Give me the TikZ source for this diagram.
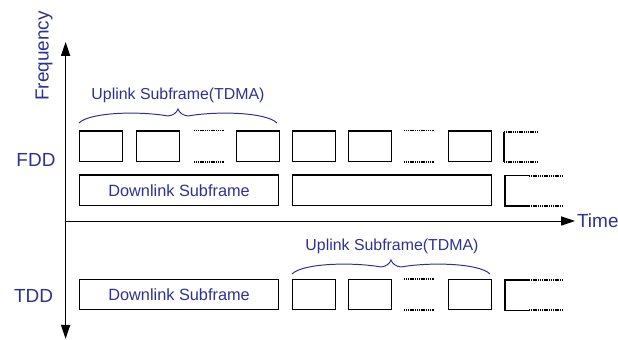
\documentclass[tikz,border=0pt]{standalone}
\usepackage{fontspec}
\setmainfont{Liberation Sans}
\usetikzlibrary{arrows.meta}

\definecolor{labelblue}{RGB}{46,49,146}

\tikzset{
  axislabel/.style={text=labelblue, font=\fontsize{13.5}{16}\selectfont, inner sep=0pt},
  framelabel/.style={text=labelblue, font=\fontsize{11.3}{13}\selectfont, inner sep=0pt},
  slot/.style={draw, line width=0.8pt, minimum width=1.075cm, minimum height=0.76cm,
    inner sep=0pt, anchor=south west},
  wideslot/.style={slot, minimum width=4.975cm, text=labelblue,
    font=\fontsize{11.6}{13}\selectfont},
  gap/.style={line width=1.3pt, dash pattern=on 0.8pt off 0.5pt},
  upbrace/.pic={
    \draw[labelblue, line width=0.7pt] (0,0) .. controls (0.275,0.275) and (1.525,0.3) .. (2.225,0.175)
      .. controls (2.35,0.19) and (2.44,0.25) .. (2.475,0.35)
      .. controls (2.51,0.25) and (2.6,0.19) .. (2.725,0.175)
      .. controls (3.425,0.3) and (4.675,0.275) .. (4.95,0);
  }
}

\begin{document}
\begin{tikzpicture}
  \useasboundingbox (0,0) rectangle (15.45,8.5);
  % Axes
  \coordinate (origin) at (1.64,2.975);
  \coordinate (ftop) at (1.64,7.45);
  \coordinate (fbot) at (1.64,0.03);
  \coordinate (tend) at (14.375,2.975);
  \draw[line width=0.7pt, {Triangle[length=3.5mm,width=2.3mm]}-{Triangle[length=3.5mm,width=2.3mm]}] (fbot) -- (ftop);
  \draw[line width=0.7pt, -{Triangle[length=3.5mm,width=2.3mm]}] (origin) -- (tend);
  \node[axislabel, rotate=90] (freq) at (1.1,7.1) {Frequency};
  \node[axislabel, anchor=west] (time) at (14.42,2.975) {Time};
  \node[axislabel] (fdd) at (0.9,4.5) {FDD};
  \node[axislabel] (tdd) at (0.84,1.1) {TDD};

  % FDD uplink row
  \node[slot] (fu1) at (1.975,4.45) {};
  \node[slot] (fu2) at (3.4,4.45) {};
  \node[slot] (fu3) at (5.9,4.45) {};
  \node[slot] (fu4) at (7.3,4.45) {};
  \node[slot] (fu5) at (8.7,4.45) {};
  \node[slot] (fu6) at (11.2,4.45) {};
  \draw[gap] (fu2.north east) ++(0.35,0) -- ++(0.75,0);
  \draw[gap] (fu2.south east) ++(0.35,0) -- ++(0.75,0);
  \draw[gap] (fu5.north east) ++(0.3,0) -- ++(0.775,0);
  \draw[gap] (fu5.south east) ++(0.3,0) -- ++(0.775,0);
  % open slot at the end
  \coordinate (fuo) at (12.6,4.45);
  \draw[line width=0.8pt] (fuo) -- ++(0,0.76);
  \draw[gap] (fuo) ++(0,0.76) -- ++(0.825,0);
  \draw[gap] (fuo) -- ++(0.825,0);
  \node[framelabel] (fulbl) at (4.45,6.125) {Uplink Subframe(TDMA)};
  \pic at (1.975,5.425) {upbrace};

  % FDD downlink row
  \node[wideslot] (fd1) at (1.975,3.35) {Downlink Subframe};
  \node[wideslot] (fd2) at (7.3,3.35) {};
  \coordinate (fdo) at (12.625,3.35);
  \draw[line width=0.8pt] (fdo) ++(0.6,0.76) -- ++(-0.6,0) -- ++(0,-0.76) -- ++(0.6,0);
  \draw[gap] (fdo) ++(0.6,0.76) -- ++(0.85,0);
  \draw[gap] (fdo) ++(0.6,0) -- ++(0.85,0);

  % TDD row
  \node[wideslot] (td1) at (1.975,0.74) {Downlink Subframe};
  \node[slot] (tu1) at (7.3,0.74) {};
  \node[slot] (tu2) at (8.7,0.74) {};
  \node[slot] (tu3) at (11.2,0.74) {};
  \draw[gap] (tu2.north east) ++(0.3,0) -- ++(0.775,0);
  \draw[gap] (tu2.south east) ++(0.3,0) -- ++(0.775,0);
  \coordinate (tdo) at (12.625,0.74);
  \draw[line width=0.8pt] (tdo) ++(0.6,0.76) -- ++(-0.6,0) -- ++(0,-0.76) -- ++(0.6,0);
  \draw[gap] (tdo) ++(0.6,0.76) -- ++(0.85,0);
  \draw[gap] (tdo) ++(0.6,0) -- ++(0.85,0);
  \node[framelabel] (tulbl) at (9.8,2.35) {Uplink Subframe(TDMA)};
  \pic at (7.3,1.65) {upbrace};
\end{tikzpicture}
\end{document}
